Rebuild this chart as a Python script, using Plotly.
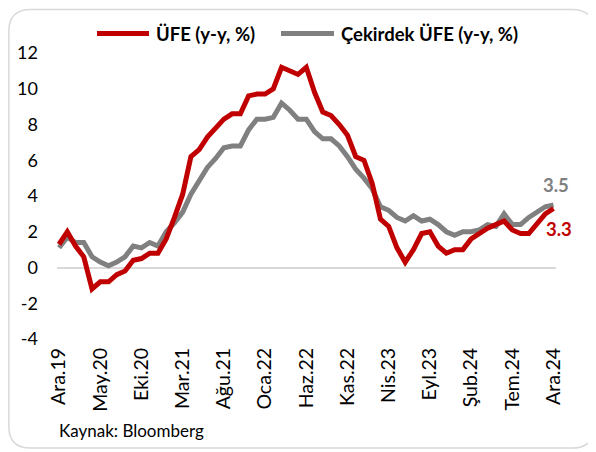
import plotly.graph_objects as go

# Data (monthly, Ara.19 .. Ara.24)
ufe = [1.3,
       2.0, 1.2, 0.6, -1.2, -0.8, -0.8, -0.4, -0.2, 0.4, 0.5, 0.8, 0.8,
       1.6, 2.8, 4.1, 6.2, 6.6, 7.3, 7.8, 8.3, 8.6, 8.6, 9.6, 9.7,
       9.7, 10.0, 11.2, 11.0, 10.8, 11.2, 9.8, 8.7, 8.5, 8.0, 7.4, 6.2,
       6.0, 4.7, 2.7, 2.3, 1.1, 0.3, 1.0, 1.9, 2.0, 1.2, 0.8, 1.0,
       1.0, 1.6, 1.9, 2.2, 2.4, 2.6, 2.1, 1.9, 1.9, 2.4, 3.0, 3.3]
core = [1.1,
        1.7, 1.4, 1.4, 0.6, 0.3, 0.1, 0.3, 0.6, 1.2, 1.1, 1.4, 1.2,
        2.0, 2.5, 3.1, 4.1, 4.8, 5.6, 6.1, 6.7, 6.8, 6.8, 7.7, 8.3,
        8.3, 8.4, 9.2, 8.8, 8.3, 8.3, 7.6, 7.2, 7.2, 6.8, 6.2, 5.5,
        5.0, 4.4, 3.4, 3.2, 2.8, 2.6, 2.9, 2.6, 2.7, 2.4, 2.0, 1.8,
        2.0, 2.0, 2.1, 2.4, 2.3, 3.0, 2.4, 2.4, 2.8, 3.1, 3.4, 3.5]
tick_labels = ["Ara.19", "May.20", "Eki.20", "Mar.21", "Ağu.21", "Oca.22", "Haz.22",
               "Kas.22", "Nis.23", "Eyl.23", "Şub.24", "Tem.24", "Ara.24"]
y_ticks = [-4, -2, 0, 2, 4, 6, 8, 10, 12]
y_tick_labels = ["-4", "-2", "0", "2", "4", "6", "8", "10", "12"]
series_names = ["ÜFE (y-y, %)", "Çekirdek ÜFE (y-y, %)"]

x = list(range(len(ufe)))
RED = "#C00000"
GRAY = "#808080"
FONT = "Lato"

# page offset (body margin) compensation
OFF = 8
W, H = 596 - OFF, 452 - OFF
# plot area in screen px: left 57, right 556, top 52.5, bottom 339.5
L, R, T, B = 57 - OFF, W - (556 - OFF), 52.5 - OFF, H - (339.5 - OFF)
pw, ph = W - L - R, H - T - B

def px(xs):
    return (xs - OFF - L) / pw

def py(ys):
    return (H - B - (ys - OFF)) / ph

fig = go.Figure()
fig.add_trace(go.Scatter(x=x, y=core, mode="lines", name=series_names[1],
                         line=dict(color=GRAY, width=5), showlegend=False))
fig.add_trace(go.Scatter(x=x, y=ufe, mode="lines", name=series_names[0],
                         line=dict(color=RED, width=5), showlegend=False))

shapes = []
# rounded border
x0, y0, x1, y1, r = 8.8, 8.8, 594, 449, 22
path = (f"M {px(x0+r)},{py(y0)} L {px(x1-r)},{py(y0)} Q {px(x1)},{py(y0)} {px(x1)},{py(y0+r)} "
        f"L {px(x1)},{py(y1-r)} Q {px(x1)},{py(y1)} {px(x1-r)},{py(y1)} "
        f"L {px(x0+r)},{py(y1)} Q {px(x0)},{py(y1)} {px(x0)},{py(y1-r)} "
        f"L {px(x0)},{py(y0+r)} Q {px(x0)},{py(y0)} {px(x0+r)},{py(y0)} Z")
shapes.append(dict(type="path", path=path, xref="paper", yref="paper",
                   line=dict(color="#D9D9D9", width=1.5), layer="below"))
# legend lines
shapes.append(dict(type="line", xref="paper", yref="paper", x0=px(97), x1=px(149), y0=py(33), y1=py(33),
                   line=dict(color=RED, width=5)))
shapes.append(dict(type="line", xref="paper", yref="paper", x0=px(281), x1=px(334), y0=py(33), y1=py(33),
                   line=dict(color=GRAY, width=5)))

annotations = [
    dict(text="<b>" + series_names[0] + "</b>", xref="paper", yref="paper", x=px(154), y=py(33.5),
         xanchor="left", yanchor="middle", showarrow=False, font=dict(family=FONT, size=18.5, color="#000")),
    dict(text="<b>" + series_names[1] + "</b>", xref="paper", yref="paper", x=px(339), y=py(33.5),
         xanchor="left", yanchor="middle", showarrow=False, font=dict(family=FONT, size=18.5, color="#000")),
    dict(text="<b>%.1f</b>" % core[-1], x=x[-1], y=core[-1], xref="x", yref="y", yshift=20, xshift=2,
         showarrow=False, font=dict(family=FONT, size=18.5, color=GRAY)),
    dict(text="<b>%.1f</b>" % ufe[-1], x=x[-1], y=ufe[-1], xref="x", yref="y", yshift=-20, xshift=5,
         showarrow=False, font=dict(family=FONT, size=18.5, color=RED)),
    dict(text="Kaynak: Bloomberg", xref="paper", yref="paper", x=px(57), y=py(431),
         xanchor="left", yanchor="middle", showarrow=False, font=dict(family=FONT, size=17, color="#000")),
]

fig.update_layout(
    width=W, height=H, margin=dict(l=L, r=R, t=T, b=B),
    paper_bgcolor="white", plot_bgcolor="white",
    font=dict(family=FONT, size=18, color="#000"),
    shapes=shapes, annotations=annotations,
)
fig.update_xaxes(range=[-0.25, 60.3], tickmode="array", tickvals=x[::5], ticktext=tick_labels,
                 tickangle=-90, showgrid=False, zeroline=False, showline=False, ticks="",
                 ticklabelstandoff=4, automargin=False,
                 tickfont=dict(family=FONT, size=19.5, color="#000"))
fig.update_yaxes(range=[-4, 12], tickmode="array", tickvals=y_ticks, ticktext=y_tick_labels,
                 showgrid=False, zeroline=True, zerolinecolor="#D9D9D9",
                 zerolinewidth=1.5, showline=False, ticks="", ticklabelstandoff=18, automargin=False,
                 tickfont=dict(family=FONT, size=18, color="#000"))

fig.write_html("out.html")
